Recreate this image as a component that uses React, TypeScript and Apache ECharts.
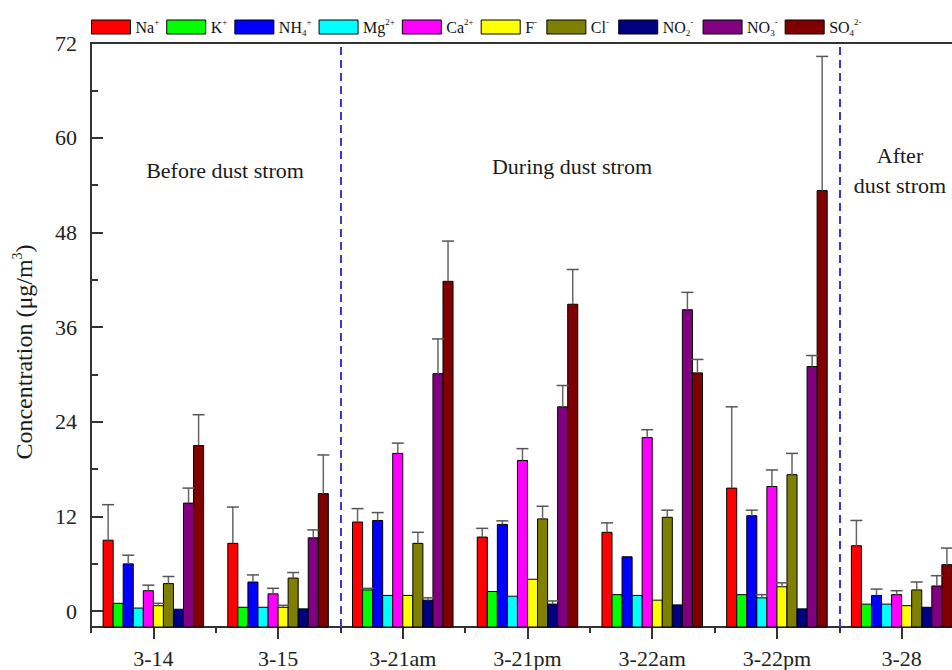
import React, { useEffect, useRef } from 'react';
import * as echarts from 'echarts';

const categories = ['3-14', '3-15', '3-21am', '3-21pm', '3-22am', '3-22pm', '3-28'];

const ionNames = ['Na+', 'K+', 'NH4+', 'Mg2+', 'Ca2+', 'F-', 'Cl-', 'NO2-', 'NO3-', 'SO42-'];
const ionColors = ['#ff0000', '#00ff00', '#0000ff', '#00ffff', '#ff00ff', '#ffff00', '#808000', '#000080', '#800080', '#800000'];

const na = [9.0, 8.6, 11.3, 9.4, 10.0, 15.6, 8.3];
const naErr = [4.5, 4.6, 1.7, 1.1, 1.2, 10.3, 3.2];
const k = [1.0, 0.5, 2.7, 2.5, 2.1, 2.1, 0.9];
const kErr = [0, 0, 0.2, 0, 0, 0, 0];
const nh4 = [6.0, 3.7, 11.5, 11.0, 6.9, 12.1, 2.0];
const nh4Err = [1.1, 0.9, 1.0, 0.45, 0, 0.7, 0.8];
const mg = [0.4, 0.5, 2.0, 1.9, 2.0, 1.7, 0.9];
const mgErr = [0, 0, 0, 0, 0, 0.4, 0];
const ca = [2.6, 2.2, 20.0, 19.1, 22.0, 15.8, 2.1];
const caErr = [0.7, 0.7, 1.3, 1.5, 1.0, 2.1, 0.5];
const f = [0.7, 0.5, 2.0, 4.05, 1.4, 3.1, 0.7];
const fErr = [0.3, 0.25, 0, 0, 0, 0.5, 0];
const cl = [3.5, 4.2, 8.6, 11.7, 11.9, 17.3, 2.7];
const clErr = [0.9, 0.7, 1.4, 1.6, 0.9, 2.7, 1.0];
const no2 = [0.25, 0.3, 1.4, 0.9, 0.8, 0.3, 0.5];
const no2Err = [0, 0, 0.3, 0.4, 0, 0, 0];
const no3 = [13.7, 9.3, 30.1, 25.9, 38.2, 31.0, 3.2];
const no3Err = [1.9, 1.0, 4.4, 2.7, 2.2, 1.4, 1.3];
const so4 = [21.0, 14.9, 41.8, 38.9, 30.2, 53.3, 5.9];
const so4Err = [3.9, 4.9, 5.1, 4.4, 1.7, 17.0, 2.1];

const ionValues = [na, k, nh4, mg, ca, f, cl, no2, no3, so4];
const ionErrors = [naErr, kErr, nh4Err, mgErr, caErr, fErr, clErr, no2Err, no3Err, so4Err];

const yMajorTicks = [0, 12, 24, 36, 48, 60, 72];
const yMinorTicks = [6, 18, 30, 42, 54, 66];
const periodBoundaries = [2, 6];

const legendLabels: Record<string, string> = {
  'Na+': '{m|Na}{sup|+}',
  'K+': '{m|K}{sup|+}',
  'NH4+': '{m|NH}{sub|4}{sup|+}',
  'Mg2+': '{m|Mg}{sup|2+}',
  'Ca2+': '{m|Ca}{sup|2+}',
  'F-': '{m|F}{sup|-}{gap| }',
  'Cl-': '{m|Cl}{sup|-}{gap2| }',
  'NO2-': '{m|NO}{sub|2}{sup|-}{gap3| }',
  'NO3-': '{m|NO}{sub|3}{sup|-}',
  'SO42-': '{m|SO}{sub|4}{sup|2-}',
};

const FONT = "'Liberation Serif', 'Times New Roman', serif";
const GROUP_RATIO = 0.806;

export default function App() {
  const ref = useRef<HTMLDivElement>(null);

  useEffect(() => {
    if (!ref.current) return;
    const chart = echarts.init(ref.current, undefined, { renderer: 'svg' });

    const makeRender = (s: number) => (params: any, api: any) => {
      const ci = api.value(0);
      const v = api.value(1);
      const e = api.value(2);
      const c = api.coord([ci, 0]);
      const bandW = api.size([1, 0])[0];
      const groupW = bandW * GROUP_RATIO;
      const bw = groupW / ionNames.length;
      const x0 = c[0] - groupW / 2 + s * bw;
      const top = api.coord([ci, v])[1];
      const cs = params.coordSys;
      const base = cs.y + cs.height;
      const children: any[] = [
        {
          type: 'rect',
          shape: { x: x0, y: top, width: bw, height: base - top },
          style: { fill: ionColors[s], stroke: '#000', lineWidth: 1 },
        },
      ];
      if (e > 0) {
        const ye = api.coord([ci, v + e])[1];
        const xc = x0 + bw / 2;
        children.push({
          type: 'line',
          z2: 10,
          shape: { x1: xc, y1: top, x2: xc, y2: ye },
          style: { stroke: '#666', lineWidth: 1.5 },
        });
        children.push({
          type: 'line',
          z2: 10,
          shape: { x1: xc - 6, y1: ye, x2: xc + 6, y2: ye },
          style: { stroke: '#555', lineWidth: 1.5 },
        });
      }
      return { type: 'group', children };
    };

    const ionSeries = ionNames.map((name, s) => ({
      name,
      type: 'custom',
      xAxisIndex: 0,
      yAxisIndex: 0,
      itemStyle: { color: ionColors[s], borderColor: '#000', borderWidth: 1 },
      encode: { x: 0, y: 1 },
      renderItem: makeRender(s),
      data: categories.map((_, i) => [i, ionValues[s][i], ionErrors[s][i]]),
    }));

    const option: any = {
      animation: false,
      backgroundColor: '#fff',
      textStyle: { fontFamily: FONT },
      grid: {
        left: 91,
        right: 0,
        top: 43,
        bottom: 43,
        show: true,
        borderColor: '#333',
        borderWidth: 2,
      },
      legend: {
        data: ionNames,
        left: 91,
        top: 17,
        padding: 0,
        icon: 'rect',
        itemWidth: 39,
        itemHeight: 14,
        itemGap: 7,
        itemStyle: { borderColor: '#000', borderWidth: 1 },
        formatter: (name: string) => legendLabels[name] || name,
        textStyle: {
          fontFamily: FONT,
          fontSize: 16,
          color: '#111',
          rich: {
            m: { fontFamily: FONT, fontSize: 16, color: '#111', lineHeight: 20, verticalAlign: 'middle' },
            sup: { fontFamily: FONT, fontSize: 9, color: '#111', lineHeight: 9, verticalAlign: 'top' },
            sub: { fontFamily: FONT, fontSize: 9, color: '#111', lineHeight: 9, verticalAlign: 'bottom' },
            gap: { fontFamily: FONT, fontSize: 9, width: 14 },
            gap2: { fontFamily: FONT, fontSize: 9, width: 14 },
            gap3: { fontFamily: FONT, fontSize: 9, width: 6 },
          },
        },
      },
      xAxis: [
        {
          type: 'category',
          data: categories,
          position: 'bottom',
          boundaryGap: true,
          axisLine: { show: true, onZero: false, lineStyle: { color: '#333', width: 2 } },
          axisTick: { show: true, alignWithLabel: true, length: 12, inside: false, lineStyle: { color: '#333', width: 2 } },
          axisLabel: { margin: 20, fontFamily: FONT, fontSize: 22, color: '#222' },
          splitLine: { show: false },
        },
        {
          type: 'value',
          min: 0,
          max: 7,
          interval: 1,
          position: 'bottom',
          axisLine: { show: false, onZero: false },
          axisTick: { show: true, length: 6, inside: false, lineStyle: { color: '#333', width: 2 } },
          axisLabel: { show: false },
          splitLine: { show: false },
        },
      ],
      yAxis: [
        {
          type: 'value',
          min: -2,
          max: 72,
          position: 'left',
          axisLine: { show: true, onZero: false, lineStyle: { color: '#333', width: 2 } },
          axisTick: { show: true, inside: true, length: 12, customValues: yMajorTicks, lineStyle: { color: '#333', width: 2 } },
          axisLabel: { show: true, margin: 14, customValues: yMajorTicks, fontFamily: FONT, fontSize: 22, color: '#222' },
          splitLine: { show: false },
        },
        {
          type: 'value',
          min: -2,
          max: 72,
          position: 'left',
          axisLine: { show: false, onZero: false },
          axisTick: { show: true, inside: true, length: 7, customValues: yMinorTicks, lineStyle: { color: '#333', width: 2 } },
          axisLabel: { show: false },
          splitLine: { show: false },
        },
      ],
      series: [
        ...ionSeries,
        {
          name: 'periods',
          type: 'line',
          xAxisIndex: 1,
          yAxisIndex: 0,
          data: [],
          silent: true,
          markLine: {
            silent: true,
            symbol: ['none', 'none'],
            label: { show: false },
            lineStyle: { color: '#3a3ac8', width: 2, type: [8, 5] },
            data: periodBoundaries.map((b) => ({ xAxis: b })),
          },
        },
      ],
      graphic: [
        {
          type: 'text',
          x: 225,
          y: 170,
          style: { text: 'Before dust strom', fontFamily: FONT, fontSize: 22, fill: '#1a1a1a', align: 'center', verticalAlign: 'middle' },
        },
        {
          type: 'text',
          x: 572,
          y: 166,
          style: { text: 'During dust strom', fontFamily: FONT, fontSize: 22, fill: '#1a1a1a', align: 'center', verticalAlign: 'middle' },
        },
        {
          type: 'text',
          x: 900,
          y: 170,
          style: { text: 'After\ndust strom', fontFamily: FONT, fontSize: 22, lineHeight: 30, fill: '#1a1a1a', align: 'center', verticalAlign: 'middle' },
        },
        {
          type: 'text',
          x: 24,
          y: 352,
          rotation: Math.PI / 2,
          style: {
            text: '{m|Concentration (μg/m}{sup|3}{m|)}',
            fontFamily: FONT,
            fontSize: 24,
            fill: '#1a1a1a',
            align: 'center',
            verticalAlign: 'middle',
            rich: {
              m: { fontFamily: FONT, fontSize: 24, fill: '#1a1a1a', lineHeight: 28, verticalAlign: 'middle' },
              sup: { fontFamily: FONT, fontSize: 14, fill: '#1a1a1a', lineHeight: 12, verticalAlign: 'top' },
            },
          },
        },
      ],
    };

    chart.setOption(option);
    return () => chart.dispose();
  }, []);

  return (
    <div style={{ position: 'fixed', left: 0, top: 0, width: 952, height: 670, overflow: 'hidden', background: '#fff' }}>
      <div ref={ref} style={{ width: 964, height: 670 }} />
    </div>
  );
}
